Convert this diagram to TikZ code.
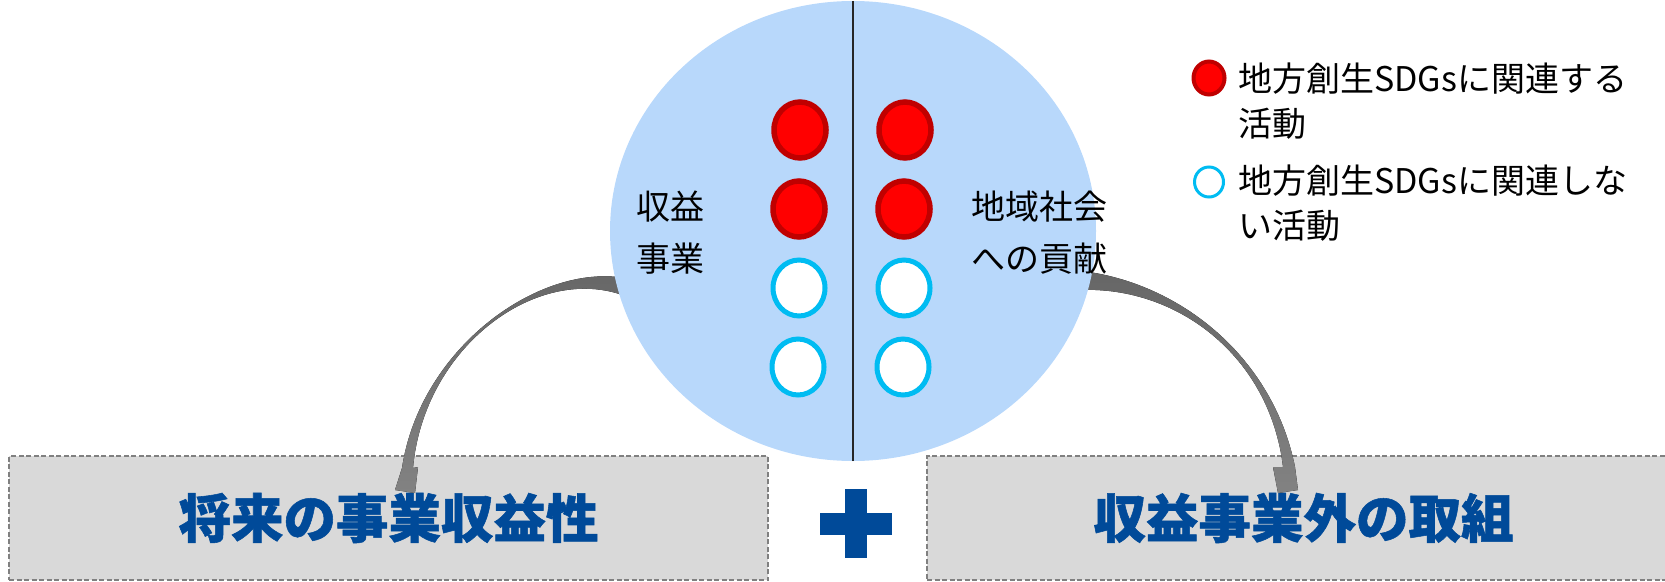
\documentclass[tikz,border=0pt]{standalone}
\usepackage{fontspec}
\setmainfont{Noto Sans CJK JP}
\usetikzlibrary{shapes.geometric}
\definecolor{pale}{RGB}{184,216,251}
\definecolor{dotred}{RGB}{255,0,0}
\definecolor{dotrim}{RGB}{192,0,0}
\definecolor{ring}{RGB}{0,188,242}
\definecolor{navy}{RGB}{0,74,153}
\definecolor{boxgray}{RGB}{217,217,217}
\definecolor{edgegray}{RGB}{128,128,128}
\definecolor{arrdark}{RGB}{102,102,102}
\definecolor{arrlight}{RGB}{130,130,130}
\begin{document}
\begin{tikzpicture}[x=1pt, y=-1pt,
        linked/.style={ellipse, fill=dotred, draw=dotrim, line width=5.5pt, minimum width=52pt, minimum height=56pt, inner sep=0pt},
        unlinked/.style={ellipse, fill=white, draw=ring, line width=5pt, minimum width=52pt, minimum height=56pt, inner sep=0pt},
        lbl/.style={align=left, anchor=west, inner sep=0pt, font=\fontsize{34}{52}\selectfont},
        key/.style={align=left, anchor=west, inner sep=0pt, font=\fontsize{34}{45}\selectfont},
        goal/.style={fill=boxgray, draw=edgegray, line width=1.5pt, dash pattern=on 5pt off 2.5pt, minimum height=124pt, text=navy, font=\fontsize{52.5}{60}\selectfont\bfseries\addfontfeatures{FakeBold=1}},
        flow/.style={top color=arrdark, bottom color=arrlight, draw=none}]
    \useasboundingbox (0, 0) rectangle (1665, 581);
    % outcomes
    \node [goal, minimum width=759pt] (fut) at (388.5, 518) {将来の事業収益性};
    \node [goal, minimum width=753pt] (oth) at (1303.5, 518) {収益事業外の取組};
    \fill [navy] (845, 489) rectangle (867, 558);
    \fill [navy] (820, 513) rectangle (892, 535);
    % curved arrows, behind the circle
    \coordinate (incA) at (625, 278);
    \coordinate (incB) at (625, 296);
    \coordinate (socA) at (1082, 271);
    \coordinate (socB) at (1080, 290);
    \fill [flow] (incA) .. controls (539, 263) and (420, 348) .. (402, 468) -- (395, 490) -- (415, 493) -- (418, 467) -- (413, 468) .. controls (424, 346) and (538, 263) .. (incB) -- cycle;
    \fill [flow] (socA) .. controls (1180, 283) and (1273, 357) .. (1295, 467) -- (1298, 490) -- (1278, 493) -- (1273, 467) -- (1283, 467) .. controls (1270, 357) and (1178, 286) .. (socB) -- cycle;
    \node [ellipse, fill=pale, minimum width=486pt, minimum height=460pt, inner sep=0pt] (act) at (853, 231) {};
    \draw [line width=1.5pt, black!85] (act.north) -- (act.south);
    % activities
    \node [linked] (l1) at (800, 130) {};
    \node [linked] (l2) at (799, 209) {};
    \node [unlinked] (l3) at (799, 288) {};
    \node [unlinked] (l4) at (798, 367) {};
    \node [linked] (r1) at (905, 130) {};
    \node [linked] (r2) at (904, 209) {};
    \node [unlinked] (r3) at (904, 288) {};
    \node [unlinked] (r4) at (903, 367) {};
    \node [lbl] (inc) at (636, 233) {収益\\事業};
    \node [lbl] (soc) at (971, 233) {地域社会\\への貢献};
    % legend
    \node [linked, minimum width=31pt, minimum height=33pt, line width=4pt] (keyon) at (1209, 78) {};
    \node [key] (keyontxt) at (1238, 101) {地方創生SDGsに関連する\\活動};
    \node [unlinked, minimum width=29pt, minimum height=30pt, line width=3pt] (keyoff) at (1209, 182) {};
    \node [key] (keyofftxt) at (1238, 203) {地方創生SDGsに関連しな\\い活動};
\end{tikzpicture}
\end{document}
